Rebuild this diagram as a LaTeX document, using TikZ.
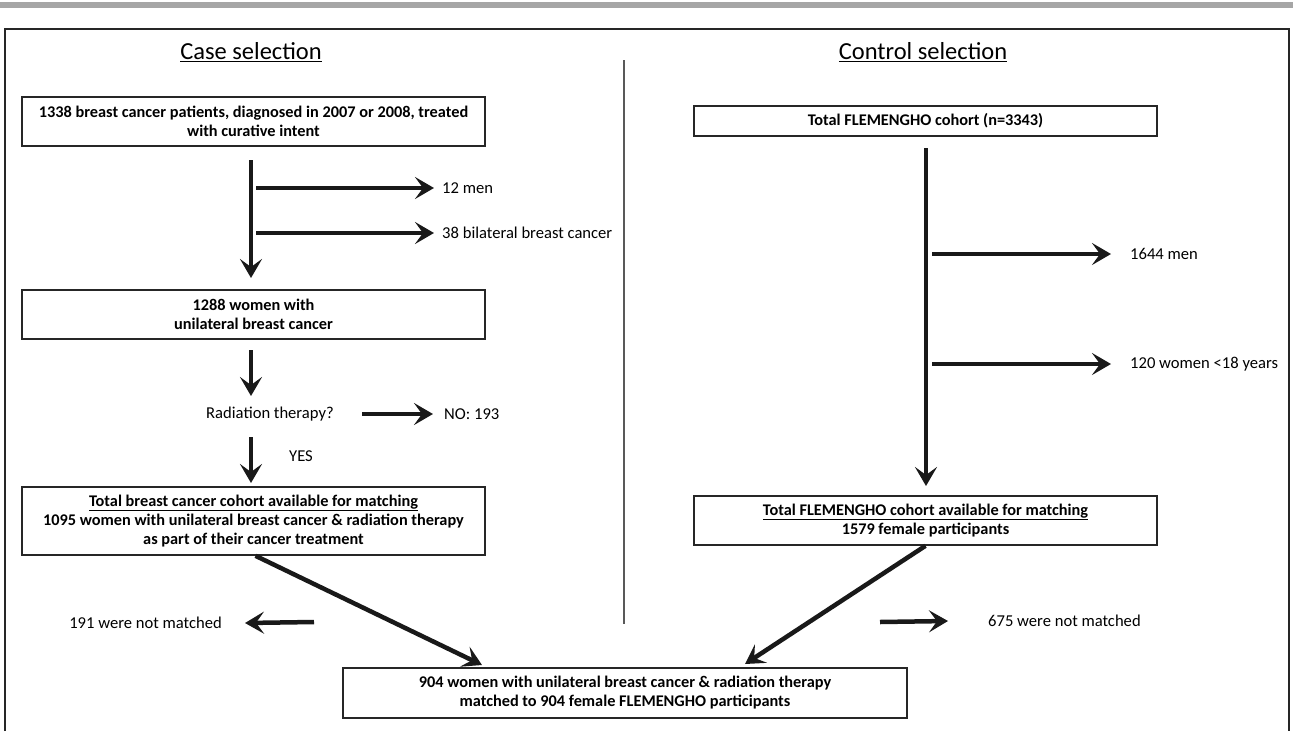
\documentclass[tikz,border=0pt]{standalone}
\usepackage{fontspec}
\setmainfont{Carlito}
\usetikzlibrary{arrows.meta}
\begin{document}
\begin{tikzpicture}[x=1pt,y=-1pt,
  box/.style={draw=black!85, line width=1.6pt, align=center, inner sep=0pt,
    font=\bfseries\fontsize{16.3}{19}\selectfont, minimum width=463pt},
  lbl/.style={inner sep=0pt, font=\fontsize{16.6}{19}\selectfont},
  head/.style={inner sep=0pt, font=\fontsize{24.5}{28}\selectfont},
  bigarrow/.style={line width=4.5pt, black!90,
    -{Stealth[length=19pt,width=22pt,inset=8pt]}},
  divider/.style={line width=1.3pt, black!65}]
\useasboundingbox (0,0) rectangle (1293,731);
\fill[black!35] (0,2) rectangle (1293,8);
\draw[line width=1.3pt, black!85] (5,731) |- (1289,29) -- (1289,731);

% headings
\node[head] (hcase) at (251,52) {\underline{Case selection}};
\node[head] (hctrl) at (923,52) {\underline{Control selection}};
\coordinate (dtop) at (624,60);
\coordinate (dbot) at (624,624);
\draw[divider] (dtop) -- (dbot);

% ---- case side
\node[box, minimum height=49pt] (b1) at (253.5,121.5)
  {1338 breast cancer patients, diagnosed in 2007 or 2008, treated\\with curative intent};
\coordinate (c1s) at (251,160);
\coordinate (c1e) at (251,278);
\draw[bigarrow] (c1s) -- (c1e);

\node[lbl, anchor=west] (t12) at (442,188) {12 men};
\coordinate (a12) at (256,188);
\draw[bigarrow] (a12) -- ([xshift=-8pt]t12.west);
\node[lbl, anchor=west] (t38) at (442,233) {38 bilateral breast cancer};
\coordinate (a38) at (256,233);
\draw[bigarrow] (a38) -- ([xshift=-8pt]t38.west);

\node[box, minimum height=49pt] (b2) at (253.5,314.5)
  {1288 women with\\unilateral breast cancer};
\coordinate (c2s) at (251,350);
\coordinate (c2e) at (251,396);
\draw[bigarrow] (c2s) -- (c2e);

\node[lbl] (rad) at (270,414) {Radiation therapy?};
\node[lbl, anchor=west] (no) at (444,414) {NO: 193};
\coordinate (nos) at (362,414);
\draw[bigarrow] (nos) -- ([xshift=-11pt]no.west);

\coordinate (c3s) at (251,437);
\coordinate (c3e) at (251,483);
\draw[bigarrow] (c3s) -- (c3e);
\node[lbl] (yes) at (301,456) {YES};

\node[box, minimum height=68pt] (b3) at (253.5,521)
  {\underline{Total breast cancer cohort available for matching}\\
   1095 women with unilateral breast cancer \& radiation therapy\\
   as part of their cancer treatment};

% ---- control side
\node[box, minimum height=30pt] (b4) at (925.5,121) {Total FLEMENGHO cohort (n=3343)};
\coordinate (r1s) at (926,148);
\coordinate (r1e) at (926,486);
\draw[bigarrow] (r1s) -- (r1e);

\node[lbl, anchor=west] (t1644) at (1130,254) {1644 men};
\coordinate (a1644) at (932,254);
\draw[bigarrow] (a1644) -- ([xshift=-19pt]t1644.west);
\node[lbl, anchor=west] (t120) at (1130,364) {120 women <18 years};
\coordinate (a120) at (932,364);
\draw[bigarrow] (a120) -- ([xshift=-19pt]t120.west);

\node[box, minimum height=49pt] (b5) at (925.5,520.5)
  {\underline{Total FLEMENGHO cohort available for matching}\\1579 female participants};

% ---- bottom
\node[box, minimum width=564pt, minimum height=50pt] (b6) at (625,693)
  {904 women with unilateral breast cancer \& radiation therapy\\
   matched to 904 female FLEMENGHO participants};

\coordinate (ltip) at (482,665);
\coordinate (rtip) at (745,664);
\draw[bigarrow] ([xshift=2pt]b3.south) -- (ltip);
\draw[bigarrow] (b5.south) -- (rtip);

\node[lbl, anchor=east] (nl) at (222,623) {191 were not matched};
\coordinate (nls) at (314,622);
\draw[bigarrow] (nls) -- ([xshift=23pt]nl.east);
\node[lbl, anchor=west] (nr) at (988,621) {675 were not matched};
\coordinate (nrs) at (880,622);
\draw[bigarrow] (nrs) -- ([xshift=-40pt]nr.west);
\end{tikzpicture}
\end{document}
